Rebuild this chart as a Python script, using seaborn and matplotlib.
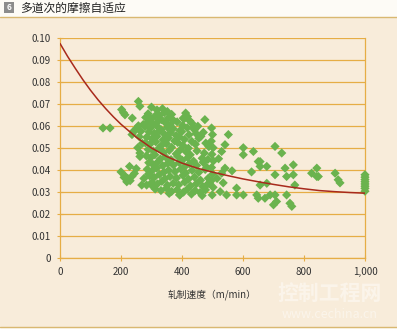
import matplotlib
matplotlib.use("Agg")
import matplotlib.pyplot as plt
import seaborn as sns
import pandas as pd
from matplotlib.patches import Rectangle
from matplotlib.lines import Line2D
from matplotlib.ticker import FixedLocator, FixedFormatter

# ---------------- data ----------------
title_text = "多道次的摩擦自适应"
x_label = "轧制速度（m/min）"
x_ticks = [0, 200, 400, 600, 800, 1000]
x_tick_labels = ["0", "200", "400", "600", "800", "1,000"]
y_ticks = [0, 0.01, 0.02, 0.03, 0.04, 0.05, 0.06, 0.07, 0.08, 0.09, 0.10]
y_tick_labels = ["0", "0.01", "0.02", "0.03", "0.04", "0.05", "0.06", "0.07", "0.08", "0.09", "0.10"]

# fitted curve
curve_speed = [0, 25, 50, 75, 100, 125, 150, 175, 200, 250, 300, 350, 400, 450, 500, 550, 600,
               650, 700, 750, 800, 850, 900, 950, 1000]
curve_friction = [0.0975, 0.0916, 0.0862, 0.0810, 0.0762, 0.0718, 0.0678, 0.0641, 0.0607,
                  0.0548, 0.0499, 0.0460, 0.0430, 0.0407, 0.0389, 0.0373, 0.0358, 0.0345,
                  0.0333, 0.0322, 0.0313, 0.0305, 0.0300, 0.0296, 0.0293]

# measured points: left sparse group
left_speed = [141, 164, 200, 214, 222, 228, 236, 244, 230, 219, 202, 208, 213, 237, 236,
              240, 247, 252, 257, 262, 257, 273, 265, 260, 262, 262, 255, 270, 268, 284,
              300, 275, 290, 210, 250]
left_friction = [0.059, 0.059, 0.039, 0.037, 0.036, 0.0415, 0.037, 0.0383, 0.035, 0.0345,
                 0.0674, 0.066, 0.065, 0.0635, 0.056, 0.0574, 0.058, 0.059, 0.0711, 0.0689,
                 0.060, 0.0606, 0.0575, 0.055, 0.0476, 0.046, 0.050, 0.052, 0.033, 0.033,
                 0.033, 0.036, 0.038, 0.0365, 0.0405]

# dense central cluster
mid_speed = [300, 318, 336, 352,
             289, 325, 342, 366, 412, 418,
             281, 298, 312, 333, 355, 372, 407, 426,
             287, 306, 322, 347, 361, 384, 402, 433, 452,
             279, 296, 316, 331, 352, 371, 394, 417, 441,
             292, 309, 327, 343, 362, 381, 399, 423, 446, 462,
             284, 301, 318, 338, 356, 376, 391, 408, 432, 455,
             280, 294, 314, 331, 349, 366, 386, 403, 421, 444, 478, 488,
             289, 306, 324, 339, 358, 381, 395, 414, 427, 449, 473,
             283, 297, 311, 329, 346, 364, 386, 401, 419, 438, 466, 485,
             291, 304, 322, 337, 353, 372, 391, 409, 424, 448, 469, 481,
             286, 301, 317, 341, 356, 377, 396, 412, 433, 455, 476,
             294, 309, 326, 344, 361, 382, 403, 421, 441, 461, 486,
             301, 319, 334, 352, 371, 389, 409, 428, 447, 468, 490,
             312, 331, 349, 366, 384, 405, 418, 443, 459, 477,
             392, 431, 466, 358]
mid_friction = [0.0685, 0.0672, 0.0678, 0.0665,
                0.0655, 0.0648, 0.0660, 0.0652, 0.0658, 0.0642,
                0.0638, 0.0631, 0.0645, 0.0628, 0.0636, 0.0625, 0.0632, 0.0622,
                0.0615, 0.0608, 0.0621, 0.0612, 0.0604, 0.0618, 0.0602, 0.0611, 0.0598,
                0.0596, 0.0589, 0.0601, 0.0583, 0.0593, 0.0587, 0.0579, 0.0591, 0.0582,
                0.0572, 0.0566, 0.0578, 0.0561, 0.0569, 0.0556, 0.0573, 0.0559, 0.0565, 0.0552,
                0.0548, 0.0541, 0.0552, 0.0536, 0.0545, 0.0531, 0.0549, 0.0538, 0.0529, 0.0543,
                0.0522, 0.0515, 0.0527, 0.0508, 0.0519, 0.0502, 0.0524, 0.0511, 0.0498, 0.0516, 0.0521, 0.0505,
                0.0492, 0.0485, 0.0497, 0.0479, 0.0488, 0.0472, 0.0491, 0.0481, 0.0468, 0.0486, 0.0476,
                0.0463, 0.0455, 0.0468, 0.0449, 0.0458, 0.0446, 0.0461, 0.0443, 0.0455, 0.0439, 0.0452, 0.0447,
                0.0432, 0.0425, 0.0437, 0.0418, 0.0429, 0.0421, 0.0433, 0.0414, 0.0427, 0.0419, 0.0434, 0.0411,
                0.0402, 0.0394, 0.0407, 0.0389, 0.0398, 0.0391, 0.0403, 0.0385, 0.0397, 0.0388, 0.0401,
                0.0372, 0.0365, 0.0378, 0.0359, 0.0369, 0.0362, 0.0374, 0.0357, 0.0366, 0.0352, 0.0361,
                0.0342, 0.0335, 0.0347, 0.0329, 0.0338, 0.0331, 0.0344, 0.0326, 0.0336, 0.0324, 0.0339,
                0.0312, 0.0305, 0.0316, 0.0301, 0.0309, 0.0298, 0.0312, 0.0305, 0.0296, 0.0308,
                0.0285, 0.0289, 0.0282, 0.0292]

# right side points
right_speed = [475, 470, 437, 404, 481, 393,
               497, 500, 496, 502, 498, 503, 497, 501, 496, 502, 499,
               552, 541, 530, 601, 601, 634, 650, 656, 628, 535, 546, 579, 579, 601, 645, 650,
               530, 541, 520, 515, 525, 564,
               705, 727, 656, 678, 705, 738, 743, 765, 765, 770, 825, 842, 656, 678, 672, 689,
               705, 710, 743, 754, 760, 700,
               842, 847, 902, 912, 918,
               1000, 1000, 1000, 1000, 1000, 1000, 1000, 1000]
right_friction = [0.0628, 0.057, 0.059, 0.0635, 0.033, 0.0285,
                  0.059, 0.056, 0.053, 0.050, 0.047, 0.044, 0.041, 0.038, 0.035, 0.032, 0.0285,
                  0.056, 0.0514, 0.0483, 0.050, 0.0468, 0.0483, 0.0437, 0.0415, 0.039, 0.034,
                  0.0285, 0.0316, 0.0285, 0.0285, 0.0285, 0.027,
                  0.0384, 0.0407, 0.045, 0.036, 0.030, 0.0395,
                  0.0506, 0.0476, 0.0437, 0.0415, 0.0377, 0.0407, 0.0369, 0.0422, 0.0377, 0.033,
                  0.0384, 0.0369, 0.033, 0.0338, 0.027, 0.0285, 0.0285, 0.0255, 0.0285, 0.0247,
                  0.0233, 0.024,
                  0.0407, 0.0369, 0.0384, 0.0354, 0.034,
                  0.0377, 0.0366, 0.0355, 0.0345, 0.0335, 0.0325, 0.0315, 0.0302]

# ---------------- styling ----------------
sns.set_theme(style="white")
plt.rcParams['font.family'] = ['Noto Sans CJK SC', 'DejaVu Sans']

BG = "#f8ecda"
GRID = "#e6ad45"
GREEN = "#6ab34e"
RED = "#a82a1c"
TXT = "#333333"

pts = pd.DataFrame({
    "speed": left_speed + mid_speed + right_speed,
    "friction": left_friction + mid_friction + right_friction,
})
curve = pd.DataFrame({"speed": curve_speed, "friction": curve_friction})

fig = plt.figure(figsize=(3.97, 3.29), dpi=100)
fig.patch.set_facecolor("#fdfbf6")

# cream panel and rules
fig.patches.append(Rectangle((0, 2 / 329), 1, (327 - 17) / 329, transform=fig.transFigure,
                             facecolor=BG, edgecolor="none", zorder=-5))
fig.lines.append(Line2D([0, 1], [1 - 17 / 329] * 2, transform=fig.transFigure,
                        color="#d9b871", lw=1.0, zorder=-4))
fig.lines.append(Line2D([0, 1], [1 - 327 / 329] * 2, transform=fig.transFigure,
                        color="#d9b871", lw=1.0, zorder=-4))
# title badge
fig.patches.append(Rectangle((4 / 397, 1 - 13 / 329), 10 / 397, 11 / 329,
                             transform=fig.transFigure, facecolor="#8c8c8c",
                             edgecolor="none", zorder=-4))
fig.text(9 / 397, 1 - 7.5 / 329, "6", color="white", fontsize=6, ha="center",
         va="center", fontweight="bold")
fig.text(20 / 397, 1 - 8 / 329, title_text, color="#222222", fontsize=8.5,
         ha="left", va="center")

ax = fig.add_axes([60 / 397, 71.5 / 329, 305 / 397, 219.5 / 329])
ax.set_facecolor(BG)

sns.scatterplot(data=pts, x="speed", y="friction", ax=ax, marker="D", s=22,
                color=GREEN, edgecolor="none", linewidth=0, zorder=3, clip_on=False)
sns.lineplot(data=curve, x="speed", y="friction", ax=ax, color=RED, lw=1.1,
             zorder=4, estimator=None)

ax.set_xlim(0, 1000)
ax.set_ylim(0, 0.10)
ax.yaxis.set_major_locator(FixedLocator(y_ticks))
ax.yaxis.set_major_formatter(FixedFormatter(y_tick_labels))
ax.xaxis.set_major_locator(FixedLocator(x_ticks))
ax.xaxis.set_major_formatter(FixedFormatter(x_tick_labels))
ax.grid(axis="y", color=GRID, lw=0.9, zorder=1)
ax.grid(axis="x", visible=False)
ax.set_axisbelow(True)
for side in ["left", "right", "bottom"]:
    ax.spines[side].set_color(GRID)
    ax.spines[side].set_linewidth(0.9)
    ax.spines[side].set_visible(True)
ax.spines["top"].set_visible(False)
ax.tick_params(axis="both", colors=GRID, labelcolor=TXT, labelsize=7,
               direction="inout", length=5, width=0.8)
ax.tick_params(axis="y", left=True, pad=4)
ax.tick_params(axis="x", bottom=True, pad=4)
ax.set_xlabel(x_label, fontsize=7, color=TXT, labelpad=9)
ax.set_ylabel("")

# faint watermark (kept clear of the tick labels)
fig.text(330 / 397, 1 - 293 / 329, "控制工程网", fontsize=15, color="white", alpha=0.45,
         ha="center", va="center", fontweight="bold")
fig.text(330 / 397, 1 - 315 / 329, "www.cechina.cn", fontsize=9, color="white",
         alpha=0.45, ha="center", va="center")

fig.savefig("out.png", dpi=100, facecolor=fig.get_facecolor())
